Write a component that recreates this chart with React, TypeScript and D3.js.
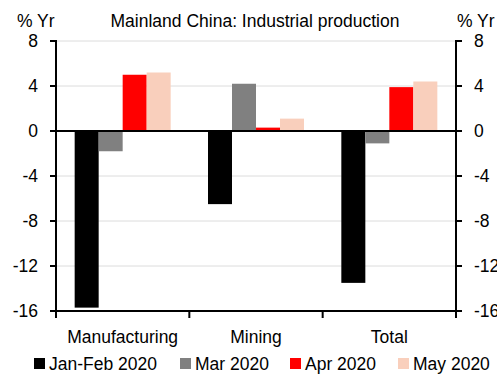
import React from "react";
import * as d3 from "d3";

const categories = ["Manufacturing", "Mining", "Total"];
const seriesNames = ["Jan-Feb 2020", "Mar 2020", "Apr 2020", "May 2020"];
const seriesColors = ["#000000", "#808080", "#ff0000", "#f9cfbc"];
const janFeb = [-15.7, -6.5, -13.5];
const mar = [-1.8, 4.2, -1.1];
const apr = [5.0, 0.3, 3.9];
const may = [5.2, 1.1, 4.4];
const yTicks = [8, 4, 0, -4, -8, -12, -16];

const W = 497;
const H = 374;
const left = 56;
const right = 456;
const top = 41;
const bottom = 311;
const fs = 17.5;

export default function App() {
  const series = [janFeb, mar, apr, may];
  const y = d3.scaleLinear().domain([-16, 8]).range([bottom, top]);
  const x = d3.scaleBand<string>().domain(categories).range([left, right]).paddingInner(0).paddingOuter(0);
  const bw = 24;
  const groupW = bw * series.length;
  const font = "'Liberation Sans', Arial, sans-serif";
  const legendX = [34, 180, 290, 398];

  return (
    <svg width={W} height={H} style={{ position: "absolute", left: 0, top: 0 }} fontFamily={font}>
      <rect width={W} height={H} fill="#fff" />
      {/* gridlines */}
      {yTicks.filter((t) => t !== 0 && t !== -16).map((t) => (
        <line key={t} x1={left} x2={right} y1={y(t)} y2={y(t)} stroke="#dcdcdc" strokeWidth={1} />
      ))}
      {/* bars */}
      {categories.map((c, ci) => {
        const x0 = (x(c) as number) + (x.bandwidth() - groupW) / 2;
        return series.map((s, si) => {
          const v = s[ci];
          return (
            <rect
              key={c + si}
              x={x0 + si * bw}
              width={bw}
              y={Math.min(y(v), y(0))}
              height={Math.abs(y(v) - y(0))}
              fill={seriesColors[si]}
            />
          );
        });
      })}
      {/* zero line */}
      <line x1={left} x2={right} y1={y(0)} y2={y(0)} stroke="#000" strokeWidth={2} />
      {/* axes */}
      <line x1={left} x2={left} y1={top - 1} y2={bottom + 7} stroke="#000" strokeWidth={2} />
      <line x1={right} x2={right} y1={top - 1} y2={bottom + 7} stroke="#000" strokeWidth={2} />
      <line x1={left - 6} x2={right + 6} y1={bottom} y2={bottom} stroke="#000" strokeWidth={2} />
      {yTicks.map((t) => (
        <g key={"t" + t}>
          <line x1={left - 6} x2={left} y1={y(t)} y2={y(t)} stroke="#000" strokeWidth={2} />
          <line x1={right} x2={right + 6} y1={y(t)} y2={y(t)} stroke="#000" strokeWidth={2} />
          <text x={38} y={y(t)} dy="0.36em" textAnchor="end" fontSize={fs} fill="#000">
            {t}
          </text>
          <text x={474} y={y(t)} dy="0.36em" textAnchor="start" fontSize={fs} fill="#000">
            {t}
          </text>
        </g>
      ))}
      {[...categories.map((c) => x(c) as number), right].map((p, i) => (
        <line key={"xt" + i} x1={p} x2={p} y1={bottom} y2={bottom + 7} stroke="#000" strokeWidth={2} />
      ))}
      {categories.map((c) => (
        <text key={"xl" + c} x={(x(c) as number) + x.bandwidth() / 2} y={343} textAnchor="middle" fontSize={fs} fill="#000">
          {c}
        </text>
      ))}
      {/* titles */}
      <text x={255} y={27} textAnchor="middle" fontSize={fs} fill="#000">
        Mainland China: Industrial production
      </text>
      <text x={17} y={27} fontSize={fs} fill="#000">% Yr</text>
      <text x={457} y={27} fontSize={fs} fill="#000">% Yr</text>
      {/* legend */}
      {seriesNames.map((n, i) => (
        <g key={n}>
          <rect x={legendX[i]} y={358} width={11} height={11} fill={seriesColors[i]} />
          <text x={legendX[i] + 15} y={370} fontSize={fs} fill="#000">
            {n}
          </text>
        </g>
      ))}
    </svg>
  );
}
